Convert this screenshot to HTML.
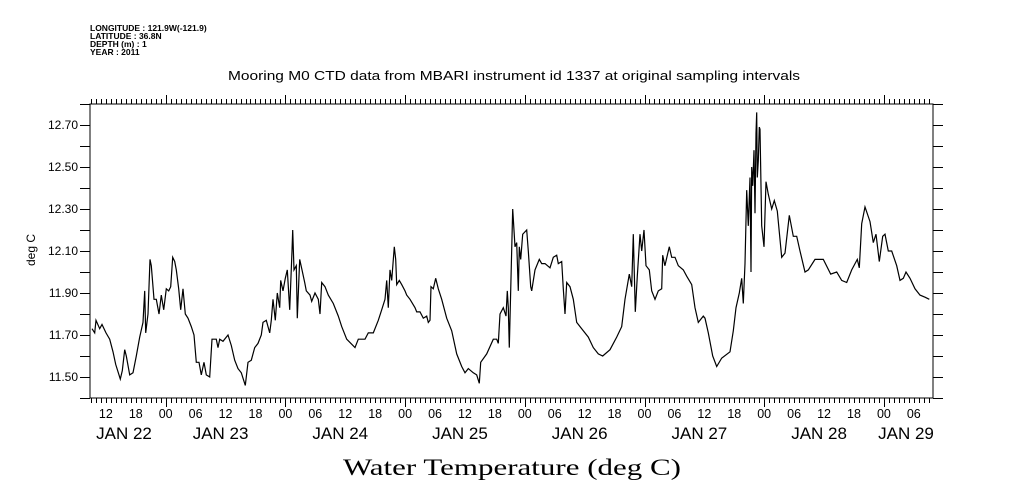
<!DOCTYPE html>
<html><head><meta charset="utf-8"><style>
html,body{margin:0;padding:0;background:#fff;}
svg{display:block;}
text{fill:#000;}
</style></head><body>
<svg id="chart" width="1009" height="504" xmlns="http://www.w3.org/2000/svg">
<g font-family="Liberation Sans, sans-serif" font-size="8.5" font-weight="bold">
<text x="90" y="31">LONGITUDE : 121.9W(-121.9)</text>
<text x="90" y="39">LATITUDE : 36.8N</text>
<text x="90" y="47">DEPTH (m) : 1</text>
<text x="90" y="55">YEAR : 2011</text>
</g>
<text x="228" y="80" textLength="572" lengthAdjust="spacingAndGlyphs" font-family="Liberation Sans, sans-serif" font-size="12.5">Mooring M0 CTD data from MBARI instrument id 1337 at original sampling intervals</text>
<text transform="translate(35,250) rotate(-90)" text-anchor="middle" font-family="Liberation Sans, sans-serif" font-size="12">deg C</text>
<text x="512" y="475" text-anchor="middle" textLength="338" lengthAdjust="spacingAndGlyphs" font-family="Liberation Serif, serif" font-size="23">Water Temperature (deg C)</text>
<rect x="90" y="104" width="843" height="294" fill="none" stroke="#000" stroke-width="1"/>
<g id="axes"></g>
<g id="series"></g>
</svg>
<script>
const hours = [9.22,9.76,10.03,10.77,11.23,12.03,12.77,13.43,13.97,14.90,15.30,15.78,16.10,16.78,17.44,18.10,18.79,19.45,19.79,19.99,20.45,20.85,21.11,21.65,22.12,22.66,23.12,23.60,24.12,24.60,25.00,25.40,25.80,26.13,26.61,27.01,27.47,27.93,28.47,29.13,29.67,30.14,30.68,31.14,31.68,32.14,32.82,33.28,34.15,34.49,34.83,35.49,36.49,37.15,37.83,38.50,39.16,39.96,40.50,41.16,41.84,42.51,43.17,43.51,44.17,44.85,45.17,45.51,45.98,46.38,46.86,47.06,47.52,47.98,48.38,48.86,49.32,49.46,49.72,50.19,50.39,50.87,51.33,51.87,52.19,52.93,53.27,53.93,54.60,54.94,55.28,55.94,56.60,57.60,58.61,59.29,60.29,61.95,62.62,63.96,64.62,65.62,66.63,67.31,67.97,68.31,68.63,68.97,69.31,69.83,70.11,70.31,70.84,71.32,71.98,72.32,72.98,73.98,74.32,74.99,75.65,76.33,76.65,76.99,77.19,77.65,78.13,78.66,79.34,80.34,81.34,82.34,83.35,84.01,84.67,85.67,86.35,86.88,87.16,88.36,89.68,90.37,90.69,91.03,91.69,92.23,92.49,92.69,92.89,93.57,94.03,94.37,94.69,94.89,95.17,95.58,96.38,96.70,97.18,97.38,98.05,98.91,99.39,100.05,101.05,101.71,102.39,102.71,103.40,103.72,104.06,104.40,105.06,105.72,106.40,107.40,108.73,109.73,110.73,111.62,113.08,114.42,115.43,116.09,116.95,117.43,117.75,118.15,118.55,119.10,119.44,119.90,120.30,120.96,121.44,122.10,122.76,123.44,123.64,124.10,124.97,125.45,126.11,126.78,127.78,128.46,129.46,130.12,130.79,131.79,132.13,132.79,133.68,134.48,135.48,137.15,137.81,138.35,139.01,139.49,139.81,140.15,140.49,140.81,141.15,141.35,141.49,141.69,141.95,142.15,142.36,142.50,142.62,142.82,143.02,143.16,143.50,143.96,144.36,144.82,145.50,146.02,146.62,147.51,148.17,149.03,149.83,150.51,151.18,152.18,152.84,154.18,155.85,157.33,158.53,159.53,160.54,161.54,162.66,163.06,163.55,164.21,165.21,165.87,166.42,167.08,167.76,168.22,168.88,169.56,170.56,171.23,171.89,172.43,173.23,174.23,175.24,176.24,177.10];
const temps = [11.73,11.71,11.77,11.73,11.75,11.71,11.68,11.62,11.56,11.49,11.53,11.63,11.60,11.51,11.52,11.60,11.69,11.76,11.91,11.71,11.80,12.06,12.03,11.87,11.87,11.80,11.89,11.82,11.92,11.91,11.93,12.07,12.05,12.01,11.92,11.82,11.92,11.80,11.78,11.74,11.70,11.57,11.57,11.51,11.57,11.51,11.50,11.68,11.68,11.64,11.68,11.67,11.70,11.65,11.58,11.54,11.52,11.46,11.57,11.58,11.64,11.66,11.70,11.76,11.77,11.71,11.77,11.87,11.77,11.90,11.83,11.96,11.91,11.97,12.01,11.82,12.10,12.20,12.01,12.03,11.78,12.06,12.01,11.95,11.91,11.89,11.86,11.90,11.87,11.80,11.95,11.93,11.89,11.85,11.79,11.74,11.68,11.64,11.68,11.68,11.71,11.71,11.77,11.82,11.87,11.96,11.83,12.01,11.96,12.12,12.06,11.94,11.96,11.94,11.91,11.89,11.87,11.83,11.81,11.81,11.78,11.79,11.76,11.77,11.93,11.92,11.97,11.92,11.87,11.78,11.72,11.61,11.55,11.52,11.54,11.52,11.51,11.47,11.57,11.61,11.68,11.68,11.66,11.80,11.83,11.79,11.91,11.83,11.64,12.30,12.12,12.14,11.91,12.12,12.06,12.18,12.20,12.10,11.93,11.91,12.01,12.06,12.04,12.04,12.02,12.07,12.08,12.04,12.05,11.92,11.80,11.95,11.93,11.87,11.76,11.73,11.69,11.64,11.61,11.60,11.63,11.69,11.74,11.87,11.99,11.93,12.18,11.81,11.98,12.18,12.10,12.20,12.03,12.01,11.91,11.87,11.91,11.92,12.08,12.03,12.12,12.07,12.07,12.03,12.01,11.98,11.94,11.83,11.76,11.79,11.78,11.71,11.60,11.55,11.59,11.62,11.72,11.83,11.90,11.97,11.85,12.04,12.39,12.22,12.45,12.00,12.50,12.41,12.58,12.28,12.66,12.76,12.45,12.53,12.69,12.68,12.22,12.12,12.43,12.37,12.30,12.34,12.29,12.07,12.09,12.27,12.17,12.17,12.10,12.00,12.01,12.06,12.06,11.99,12.00,11.96,11.95,12.01,12.06,12.02,12.23,12.31,12.24,12.14,12.18,12.05,12.17,12.18,12.10,12.10,12.03,11.96,11.97,12.00,11.97,11.92,11.89,11.88,11.87];
const yTickLabels = ["12.70","12.50","12.30","12.10","11.90","11.70","11.50"];
const hourLabels = ["12","18","00","06","12","18","00","06","12","18","00","06","12","18","00","06","12","18","00","06","12","18","00","06","12","18","00","06"];
const dayLabels = ["JAN 22","JAN 23","JAN 24","JAN 25","JAN 26","JAN 27","JAN 28","JAN 29"];

const NS = "http://www.w3.org/2000/svg";
const L = 90, R = 933, T = 104, B = 398;
const xs = h => 46 + h * (119.7 / 24);
const ys = v => 125 + (12.70 - v) * 210;
const axes = document.getElementById('axes');
const ser = document.getElementById('series');
function mk(tag, attrs, parent) {
  const e = document.createElementNS(NS, tag);
  for (const k in attrs) e.setAttribute(k, attrs[k]);
  parent.appendChild(e);
  return e;
}
let tickPath = "";
for (let i = 0; i <= 14; i++) {
  const v = 11.40 + i * 0.1;
  const y = Math.round(ys(v)) + 0.5;
  tickPath += `M${L - 10},${y}H${L}M${R},${y}H${R + 10}`;
}
const h0 = Math.ceil((L - 46) / (119.7 / 24));
for (let h = h0; xs(h) <= R; h++) {
  const x = Math.round(xs(h)) + 0.5;
  const len = (h % 24 === 0) ? 9 : 5;
  tickPath += `M${x},${T}V${T - len}M${x},${B}V${B + len}`;
}
const tp = mk('path', {d: tickPath, stroke: '#000', 'stroke-width': 1, fill: 'none'}, axes);


yTickLabels.forEach(s => {
  const t = mk('text', {x: 78, y: ys(parseFloat(s)) + 4, 'text-anchor': 'end', 'font-family': 'Liberation Sans, sans-serif', 'font-size': 12}, axes);
  t.textContent = s;
  
  
});
hourLabels.forEach((s, i) => {
  const h = 12 + i * 6;
  const t = mk('text', {x: xs(h), y: 418, 'text-anchor': 'middle', 'font-family': 'Liberation Sans, sans-serif', 'font-size': 12.5}, axes);
  t.textContent = s;
  
  
});
dayLabels.forEach((s, i) => {
  let cx = xs(i * 24 + 11);
  cx = Math.max(L + 34, Math.min(R - 27, cx));
  const t = mk('text', {x: cx, y: 439, 'text-anchor': 'middle', 'font-family': 'Liberation Sans, sans-serif', 'font-size': 17}, axes);
  t.textContent = s;
  
  
});
let d = "";
hours.forEach((h, i) => { d += (i ? "L" : "M") + xs(h).toFixed(1) + "," + ys(temps[i]).toFixed(1); });
const line = mk('path', {d: d, stroke: '#000', 'stroke-width': 1.2, fill: 'none'}, ser);


</script>
</body></html>
